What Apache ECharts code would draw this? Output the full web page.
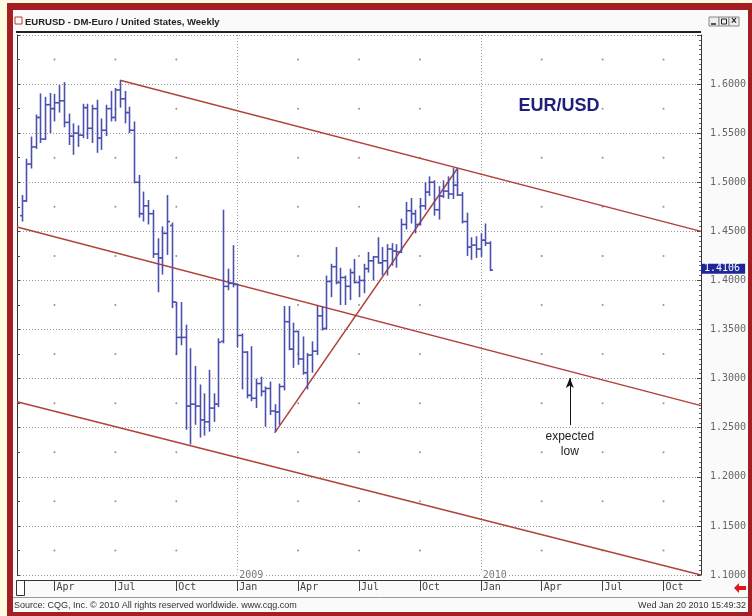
<!DOCTYPE html>
<html>
<head>
<meta charset="utf-8">
<title>EURUSD weekly</title>
<script src="https://cdn.jsdelivr.net/npm/echarts@6/dist/echarts.min.js"></script>
<style>
  html, body { margin: 0; padding: 0; background: #fffbe1; }
  #chart { width: 752px; height: 616px; }
</style>
</head>
<body>
<div id="chart"></div>
<script>
// weekly OHLC bars, first bar = week of 2008-02-18, last = week of 2010-01-18
const firstWeek = '2008-02-18';
const opens = [
  1.4660, 1.4810, 1.5185, 1.5360, 1.5660, 1.5440, 1.5790, 1.5750, 1.5810, 1.5830,
  1.5610, 1.5470, 1.5500, 1.5480, 1.5760, 1.5550, 1.5750, 1.5450, 1.5530, 1.5750,
  1.5660, 1.5940, 1.5850, 1.5710, 1.5530, 1.5000, 1.4680, 1.4760, 1.4680, 1.4270,
  1.4230, 1.4480, 1.4560, 1.3780, 1.3420, 1.3420, 1.2720, 1.2740, 1.2720, 1.2580,
  1.2560, 1.2700, 1.2740, 1.3380, 1.3940, 1.3970, 1.3960, 1.3440, 1.3270, 1.2830,
  1.2800, 1.2950, 1.2870, 1.2900, 1.2670, 1.2660, 1.2920, 1.3580, 1.3300, 1.3480,
  1.3200, 1.3060, 1.3240, 1.3280, 1.3640, 1.3510, 1.3990, 1.4140, 1.3980, 1.4030,
  1.3940, 1.4080, 1.3980, 1.4000, 1.4120, 1.4200, 1.4240, 1.4180, 1.4200, 1.4320,
  1.4300, 1.4290, 1.4570, 1.4710, 1.4680, 1.4570, 1.4760, 1.4900, 1.5000, 1.4720,
  1.4860, 1.4910, 1.4880, 1.4970, 1.4870, 1.4600, 1.4340, 1.4360, 1.4320, 1.4410,
  1.4380
];
const highs = [
  1.4870, 1.5240, 1.5465, 1.5690, 1.5905, 1.5870, 1.5910, 1.5900, 1.5990, 1.6020,
  1.5700, 1.5600, 1.5580, 1.5800, 1.5800, 1.5790, 1.5840, 1.5650, 1.5790, 1.5930,
  1.5960, 1.6038, 1.5930, 1.5770, 1.5620, 1.5075, 1.4905, 1.4820, 1.4720, 1.4430,
  1.4550, 1.4870, 1.4590, 1.3780, 1.3780, 1.3550, 1.3310, 1.3130, 1.2940, 1.2850,
  1.3090, 1.2850, 1.3410, 1.4720, 1.4120, 1.4360, 1.3970, 1.3460, 1.3280, 1.3330,
  1.3000, 1.3020, 1.2920, 1.2970, 1.2740, 1.2950, 1.3740, 1.3740, 1.3570, 1.3490,
  1.3430, 1.3260, 1.3380, 1.3740, 1.3740, 1.4050, 1.4170, 1.4340, 1.4130, 1.4050,
  1.4120, 1.4220, 1.4050, 1.4170, 1.4290, 1.4250, 1.4440, 1.4340, 1.4370, 1.4380,
  1.4370, 1.4630, 1.4800, 1.4840, 1.4720, 1.4840, 1.5000, 1.5060, 1.5020, 1.4960,
  1.5020, 1.5060, 1.5144, 1.5140, 1.4900, 1.4690, 1.4440, 1.4450, 1.4480, 1.4580,
  1.4400
];
const lows = [
  1.4600, 1.4800, 1.5140, 1.5340, 1.5400, 1.5430, 1.5500, 1.5620, 1.5710, 1.5560,
  1.5380, 1.5280, 1.5360, 1.5450, 1.5440, 1.5400, 1.5300, 1.5330, 1.5470, 1.5620,
  1.5620, 1.5760, 1.5600, 1.5500, 1.4990, 1.4640, 1.4600, 1.4570, 1.4230, 1.3880,
  1.4060, 1.4260, 1.3720, 1.3240, 1.3340, 1.2480, 1.2330, 1.2530, 1.2400, 1.2420,
  1.2460, 1.2560, 1.2710, 1.3360, 1.3900, 1.3930, 1.3320, 1.2890, 1.2800, 1.2770,
  1.2700, 1.2820, 1.2510, 1.2630, 1.2457, 1.2530, 1.2880, 1.3290, 1.3110, 1.3140,
  1.3040, 1.2890, 1.3060, 1.3240, 1.3490, 1.3500, 1.3830, 1.3960, 1.3750, 1.3750,
  1.3800, 1.3970, 1.3830, 1.3870, 1.4080, 1.4000, 1.4170, 1.4050, 1.4050, 1.4150,
  1.4130, 1.4280, 1.4520, 1.4580, 1.4480, 1.4560, 1.4720, 1.4860, 1.4660, 1.4620,
  1.4840, 1.4830, 1.4830, 1.4860, 1.4580, 1.4250, 1.4210, 1.4230, 1.4240, 1.4350,
  1.4095
];
const closes = [
  1.4810, 1.5185, 1.5360, 1.5660, 1.5440, 1.5790, 1.5750, 1.5810, 1.5830, 1.5610,
  1.5470, 1.5500, 1.5480, 1.5760, 1.5550, 1.5750, 1.5450, 1.5530, 1.5750, 1.5660,
  1.5940, 1.5850, 1.5710, 1.5530, 1.5000, 1.4680, 1.4760, 1.4680, 1.4270, 1.4230,
  1.4480, 1.4600, 1.3780, 1.3420, 1.3420, 1.2720, 1.2740, 1.2720, 1.2580, 1.2560,
  1.2700, 1.2740, 1.3370, 1.3940, 1.3970, 1.3960, 1.3440, 1.3270, 1.2830, 1.2800,
  1.2950, 1.2870, 1.2900, 1.2670, 1.2660, 1.2920, 1.3580, 1.3300, 1.3480, 1.3200,
  1.3060, 1.3240, 1.3280, 1.3640, 1.3510, 1.3990, 1.4140, 1.3980, 1.4030, 1.3940,
  1.4080, 1.3980, 1.4000, 1.4120, 1.4200, 1.4240, 1.4180, 1.4200, 1.4320, 1.4300,
  1.4290, 1.4570, 1.4710, 1.4680, 1.4570, 1.4760, 1.4900, 1.5000, 1.4720, 1.4860,
  1.4910, 1.4880, 1.4970, 1.4870, 1.4600, 1.4340, 1.4360, 1.4320, 1.4410, 1.4380,
  1.4106
];
const lastPrice = 1.4106;

// time axis: one week before the first bar, out to end of Nov 2010
const axisStart = '2008-02-11';
const axisWeeks = 147;
const monthNames = ['Jan', 'Feb', 'Mar', 'Apr', 'May', 'Jun', 'Jul', 'Aug', 'Sep', 'Oct', 'Nov', 'Dec'];
const quarterMonths = [0, 3, 6, 9];

// price scale
const priceMin = 1.10;
const priceMax = 1.65;
const priceStep = 0.05;
const dotLevels = [1.125, 1.175, 1.225, 1.275, 1.325, 1.375, 1.425, 1.475, 1.525, 1.575, 1.625];

// trend lines drawn on the chart, [week, price]
const upperChannel = [['2008-07-14', 1.6040], ['2010-11-29', 1.4500]];
const middleChannel = [['2008-02-11', 1.4545], ['2010-11-29', 1.2725]];
const lowerChannel = [['2008-02-11', 1.2765], ['2010-11-29', 1.1000]];
const supportLine = [['2009-03-02', 1.2448], ['2009-11-30', 1.5140]];
const expectedLowArrow = [['2010-05-17', 1.2527], ['2010-05-17', 1.3006]];

const barColor = '#4c50ad';
const lineColor = '#b0423b';
const mono = 'DejaVu Sans Mono';
const sans = 'Liberation Sans';

const weeks = [];
(function () {
  const t0 = Date.parse(axisStart + 'T00:00:00Z');
  for (let i = 0; i < axisWeeks; i++) {
    weeks.push(new Date(t0 + i * 7 * 864e5).toISOString().slice(0, 10));
  }
})();
const idx = d => weeks.indexOf(d);
const isQuarterStart = w => {
  const m = +w.slice(5, 7) - 1, d = +w.slice(8, 10);
  return quarterMonths.indexOf(m) >= 0 && d <= 7;
};
const isYearStart = w => w.slice(5, 7) === '01' && +w.slice(8, 10) <= 7;

const first = idx(firstWeek);
const barData = opens.map((o, i) => [first + i, o, highs[i], lows[i], closes[i]]);

const dotData = [];
weeks.forEach((w, i) => {
  if (isQuarterStart(w) && !isYearStart(w)) dotLevels.forEach(v => dotData.push([i, v]));
});
const yearData = weeks.filter(isYearStart).map(w => [idx(w), priceMin, w.slice(0, 4)]);

const toLine = pts => pts.map(p => [idx(p[0]), p[1]]);

function renderBar(params, api) {
  const i = api.value(0);
  const hi = api.coord([i, api.value(2)]);
  const lo = api.coord([i, api.value(3)]);
  const op = api.coord([i, api.value(1)]);
  const cl = api.coord([i, api.value(4)]);
  const x = Math.round(hi[0]) + 0.5;
  const st = { stroke: barColor, lineWidth: 1.6 };
  return {
    type: 'group',
    children: [
      { type: 'line', shape: { x1: x, y1: hi[1], x2: x, y2: lo[1] }, style: st },
      { type: 'line', shape: { x1: x - 2.5, y1: op[1], x2: x, y2: op[1] }, style: st },
      { type: 'line', shape: { x1: x, y1: cl[1], x2: x + 2.5, y2: cl[1] }, style: st }
    ]
  };
}

const chart = echarts.init(document.getElementById('chart'));

const trendSeries = (name, pts) => ({
  name: name,
  type: 'line',
  data: toLine(pts),
  symbol: 'none',
  silent: true,
  lineStyle: { color: lineColor, width: 1.5 },
  z: 3
});

const option = {
  backgroundColor: '#fffbe1',
  animation: false,
  grid: { left: 17, right: 51, top: 35, bottom: 41 },
  xAxis: {
    type: 'category',
    data: weeks,
    boundaryGap: false,
    offset: 5,
    axisLine: { lineStyle: { color: '#333', width: 1 } },
    axisTick: { interval: (i, w) => isQuarterStart(w), length: 11, lineStyle: { color: '#444' } },
    axisLabel: {
      interval: (i, w) => isQuarterStart(w),
      formatter: w => monthNames[+w.slice(5, 7) - 1],
      align: 'left',
      verticalAlign: 'top',
      margin: 2,
      padding: [0, 0, 0, 2],
      color: '#444',
      fontFamily: mono,
      fontSize: 10
    },
    splitLine: {
      show: true,
      interval: (i, w) => isYearStart(w),
      lineStyle: { color: '#999', type: [1, 2] }
    }
  },
  yAxis: [
    {
      type: 'value',
      position: 'right',
      min: priceMin,
      max: priceMax,
      interval: priceStep,
      axisLine: { show: true, lineStyle: { color: '#333' } },
      axisTick: { show: true, inside: true, length: 4, lineStyle: { color: '#444' } },
      minorTick: { show: true, splitNumber: 10, length: 2, lineStyle: { color: '#666' } },
      axisLabel: {
        formatter: v => (v > priceMax - 0.001 ? '' : v.toFixed(4)),
        margin: 9,
        color: '#666',
        fontFamily: mono,
        fontSize: 10
      },
      splitLine: { show: true, lineStyle: { color: '#999', type: [1, 2] } }
    },
    {
      type: 'value',
      position: 'left',
      min: priceMin,
      max: priceMax,
      interval: priceStep / 2,
      axisLine: { show: true, lineStyle: { color: '#333' } },
      axisTick: { show: true, inside: true, length: 3, lineStyle: { color: '#444' } },
      axisLabel: { show: false },
      splitLine: { show: false }
    }
  ],
  series: [
    {
      name: 'dots',
      type: 'scatter',
      data: dotData,
      symbolSize: 2,
      silent: true,
      itemStyle: { color: '#777' },
      z: 1
    },
    {
      name: 'years',
      type: 'scatter',
      data: yearData,
      symbolSize: 0,
      silent: true,
      label: {
        show: true,
        position: 'right',
        distance: 0,
        formatter: p => p.value[2],
        backgroundColor: '#fff',
        padding: [0, 2],
        color: '#555',
        fontFamily: mono,
        fontSize: 10
      },
      z: 1
    },
    trendSeries('upper', upperChannel),
    trendSeries('middle', middleChannel),
    trendSeries('lower', lowerChannel),
    trendSeries('support', supportLine),
    {
      name: 'EURUSD',
      type: 'custom',
      renderItem: renderBar,
      data: barData,
      encode: { x: 0, y: [1, 2, 3, 4] },
      z: 4
    },
    {
      name: 'notes',
      type: 'line',
      data: [],
      z: 6,
      markLine: {
        silent: true,
        symbol: ['none', 'arrow'],
        symbolSize: [6, 10],
        lineStyle: { color: '#111', width: 1, type: 'solid' },
        data: [
          [
            { coord: [idx(expectedLowArrow[0][0]), expectedLowArrow[0][1]] },
            { coord: [idx(expectedLowArrow[1][0]), expectedLowArrow[1][1]] }
          ],
          {
            yAxis: lastPrice,
            symbol: 'none',
            lineStyle: { color: 'rgba(0,0,0,0)', width: 0 },
            label: {
              position: 'end',
              distance: 0,
              offset: [0, -2],
              formatter: lastPrice.toFixed(4),
              backgroundColor: '#1d2797',
              color: '#fff',
              padding: [0, 5, 0, 3],
              fontFamily: mono,
              fontSize: 10,
              lineHeight: 10
            }
          }
        ],
        label: {
          show: true,
          position: 'start',
          distance: 4,
          formatter: 'expected\nlow',
          color: '#222',
          fontFamily: sans,
          fontSize: 12,
          lineHeight: 15
        }
      }
    }
  ],
  graphic: [
    // outer red frame and window
    { type: 'rect', z: -10, shape: { x: 7, y: 3, width: 745, height: 613 }, style: { fill: '#a41f24' } },
    { type: 'rect', z: -9, shape: { x: 13, y: 10, width: 735, height: 602 }, style: { fill: '#fafafa' } },
    { type: 'rect', z: -8, shape: { x: 17, y: 33, width: 684, height: 547 }, style: { fill: '#fff' } },
    // title bar
    { type: 'rect', z: 5, shape: { x: 15, y: 17, width: 7, height: 7 }, style: { fill: '#fff', stroke: '#c0392b', lineWidth: 1 } },
    {
      type: 'text', z: 5, x: 25, y: 22,
      style: { text: 'EURUSD - DM-Euro / United States, Weekly', fill: '#222', font: 'bold 9.5px "Liberation Sans"', verticalAlign: 'middle' }
    },
    { type: 'rect', z: 5, shape: { x: 709, y: 17, width: 10, height: 9 }, style: { fill: '#eee', stroke: '#888', lineWidth: 1 } },
    { type: 'rect', z: 5, shape: { x: 719, y: 17, width: 10, height: 9 }, style: { fill: '#eee', stroke: '#888', lineWidth: 1 } },
    { type: 'rect', z: 5, shape: { x: 729, y: 17, width: 10, height: 9 }, style: { fill: '#eee', stroke: '#888', lineWidth: 1 } },
    { type: 'line', z: 6, shape: { x1: 711, y1: 24, x2: 716, y2: 24 }, style: { stroke: '#222', lineWidth: 1.5 } },
    { type: 'rect', z: 6, shape: { x: 721.5, y: 19, width: 5, height: 5 }, style: { fill: 'none', stroke: '#222', lineWidth: 1 } },
    { type: 'text', z: 6, x: 734, y: 21.5, style: { text: '×', fill: '#222', font: 'bold 10px "Liberation Sans"', align: 'center', verticalAlign: 'middle' } },
    // plot frame
    { type: 'line', z: 5, shape: { x1: 16, y1: 32, x2: 701, y2: 32 }, style: { stroke: '#222', lineWidth: 2 } },
    // label row / footer
    { type: 'rect', z: 5, shape: { x: 16.5, y: 580.5, width: 8, height: 15 }, style: { fill: '#fff', stroke: '#333', lineWidth: 1 } },
    { type: 'line', z: 5, shape: { x1: 13, y1: 597.5, x2: 748, y2: 597.5 }, style: { stroke: '#999', lineWidth: 1 } },
    {
      type: 'polygon', z: 5,
      shape: { points: [[734, 588], [739, 583], [739, 586], [746, 586], [746, 590], [739, 590], [739, 593]] },
      style: { fill: '#e3141b' }
    },
    {
      type: 'text', z: 5, x: 14, y: 606,
      style: { text: 'Source: CQG, Inc. © 2010 All rights reserved worldwide. www.cqg.com', fill: '#333', font: '9px "Liberation Sans"', verticalAlign: 'middle' }
    },
    {
      type: 'text', z: 5, x: 746, y: 606,
      style: { text: 'Wed Jan 20 2010 15:49:32', fill: '#333', font: '9px "Liberation Sans"', align: 'right', verticalAlign: 'middle' }
    },
    // annotation
    {
      type: 'text', z: 5, x: 559, y: 106.5,
      style: { text: 'EUR/USD', fill: '#1f1f78', font: 'bold 18px "Liberation Sans"', align: 'center', verticalAlign: 'middle' }
    }
  ]
};

chart.setOption(option);
</script>
</body>
</html>
